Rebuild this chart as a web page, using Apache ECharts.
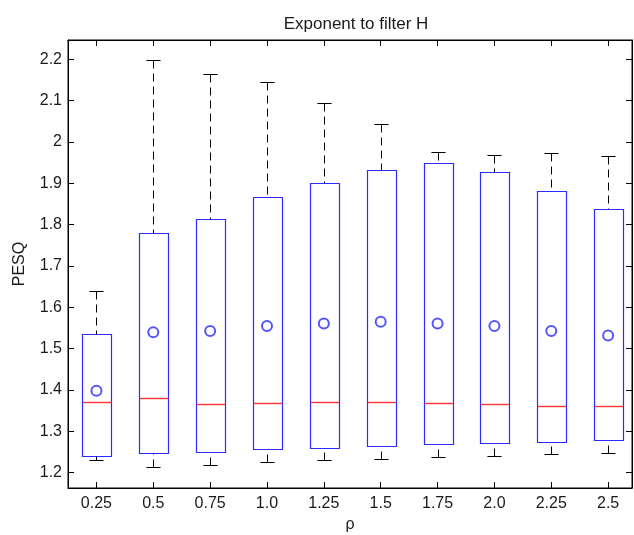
<!DOCTYPE html>
<html>
<head>
<meta charset="utf-8">
<title>Exponent to filter H</title>
<script src="https://cdn.jsdelivr.net/npm/echarts@6/dist/echarts.min.js"></script>
<style>
  html, body { margin: 0; padding: 0; background: #fff; }
  #chart { width: 634px; height: 535px; }
</style>
</head>
<body>
<div id="chart"></div>
<script>
// Exponent values on the x axis
const categories = ['0.25', '0.5', '0.75', '1.0', '1.25', '1.5', '1.75', '2.0', '2.25', '2.5'];

// Box statistics per exponent (PESQ)
const whiskerLow  = [1.230, 1.213, 1.219, 1.227, 1.230, 1.232, 1.238, 1.241, 1.245, 1.248];
const quartile1   = [1.241, 1.248, 1.251, 1.257, 1.260, 1.264, 1.270, 1.271, 1.274, 1.280];
const medians     = [1.371, 1.381, 1.366, 1.369, 1.372, 1.372, 1.369, 1.366, 1.362, 1.362];
const quartile3   = [1.536, 1.779, 1.814, 1.866, 1.901, 1.932, 1.948, 1.927, 1.882, 1.838];
const whiskerHigh = [1.640, 2.198, 2.164, 2.144, 2.094, 2.044, 1.976, 1.968, 1.974, 1.966];
const means       = [1.398, 1.540, 1.543, 1.555, 1.561, 1.565, 1.561, 1.555, 1.543, 1.532];

// Tick positions
const xTicks = [1, 2, 3, 4, 5, 6, 7, 8, 9, 10];
const yTicks = [1.2, 1.3, 1.4, 1.5, 1.6, 1.7, 1.8, 1.9, 2.0, 2.1, 2.2];

const boxRows = categories.map((c, i) =>
  [i + 1, whiskerLow[i], quartile1[i], medians[i], quartile3[i], whiskerHigh[i]]);
const meanRows = categories.map((c, i) => [i + 1, means[i]]);

const BLUE = '#2b2bff';
const RED = '#ff3333';
const FONT = 'Liberation Sans, Arial, sans-serif';
const FONT_SIZE = 16;
const TEXT_COLOR = '#1a1a1a';

const X_MIN = 0.5, X_MAX = 10.42;
const Y_MIN = 1.163, Y_MAX = 2.2467;

function px(v) { return Math.round(v) + 0.5; }

function renderBox(params, api) {
  const x = api.value(0);
  const pLo = api.coord([x, api.value(1)]);
  const pQ1 = api.coord([x, api.value(2)]);
  const pMed = api.coord([x, api.value(3)]);
  const pQ3 = api.coord([x, api.value(4)]);
  const pHi = api.coord([x, api.value(5)]);
  const cx = px(pMed[0]);
  const halfW = api.size([0.5, 0])[0] / 2;
  const capHalf = halfW / 2;
  const dashStyle = { stroke: '#000', lineWidth: 1, lineDash: [8, 5], fill: null };
  const solid = { stroke: '#000', lineWidth: 1, fill: null };
  const yLo = px(pLo[1]), yQ1 = px(pQ1[1]), yMed = px(pMed[1]), yQ3 = px(pQ3[1]), yHi = px(pHi[1]);
  const left = px(cx - halfW), right = px(cx + halfW);
  return {
    type: 'group',
    children: [
      { type: 'line', shape: { x1: cx, y1: yHi, x2: cx, y2: yQ3 }, style: dashStyle },
      { type: 'line', shape: { x1: cx, y1: yLo, x2: cx, y2: yQ1 }, style: dashStyle },
      { type: 'line', shape: { x1: cx - capHalf, y1: yHi, x2: cx + capHalf, y2: yHi }, style: solid },
      { type: 'line', shape: { x1: cx - capHalf, y1: yLo, x2: cx + capHalf, y2: yLo }, style: solid },
      { type: 'rect', shape: { x: left, y: yQ3, width: right - left, height: yQ1 - yQ3 },
        style: { stroke: BLUE, lineWidth: 1.2, fill: null } },
      { type: 'line', shape: { x1: left, y1: yMed, x2: right, y2: yMed },
        style: { stroke: RED, lineWidth: 1.4, fill: null } }
    ]
  };
}

const chart = echarts.init(document.getElementById('chart'), null, { renderer: 'canvas' });

const axisLineStyle = { color: '#000', width: 1 };

chart.setOption({
  animation: false,
  backgroundColor: '#fff',
  title: {
    text: 'Exponent to filter H',
    left: 351,
    top: 11,
    textAlign: 'center',
    textStyle: { fontFamily: FONT, fontSize: 17, fontWeight: 'normal', color: TEXT_COLOR }
  },
  grid: {
    left: 68, top: 40, right: 2, bottom: 47,
    outerBoundsMode: 'none',
    containLabel: false,
    show: true, borderColor: '#000', borderWidth: 1, backgroundColor: '#fff'
  },
  xAxis: [
    {
      type: 'value', min: X_MIN, max: X_MAX, position: 'bottom',
      name: 'ρ', nameLocation: 'middle', nameGap: 28,
      nameTextStyle: { fontFamily: FONT, fontSize: FONT_SIZE, color: TEXT_COLOR },
      axisLine: { show: true, lineStyle: axisLineStyle },
      axisTick: { show: true, inside: true, length: 6, customValues: xTicks, lineStyle: axisLineStyle },
      axisLabel: {
        customValues: xTicks, margin: 8,
        formatter: v => categories[Math.round(v) - 1],
        fontFamily: FONT, fontSize: FONT_SIZE, color: TEXT_COLOR
      },
      splitLine: { show: false }
    },
    {
      type: 'value', min: X_MIN, max: X_MAX, position: 'top',
      axisLine: { show: true, lineStyle: axisLineStyle },
      axisTick: { show: true, inside: true, length: 6, customValues: xTicks, lineStyle: axisLineStyle },
      axisLabel: { show: false },
      splitLine: { show: false }
    }
  ],
  yAxis: [
    {
      type: 'value', min: Y_MIN, max: Y_MAX, position: 'left',
      name: 'PESQ', nameLocation: 'middle', nameGap: 40, nameRotate: 90,
      nameTextStyle: { fontFamily: FONT, fontSize: FONT_SIZE, color: TEXT_COLOR },
      axisLine: { show: true, lineStyle: axisLineStyle },
      axisTick: { show: true, inside: true, length: 6, customValues: yTicks, lineStyle: axisLineStyle },
      axisLabel: {
        customValues: yTicks, margin: 6,
        formatter: v => String(Math.round(v * 10) / 10),
        fontFamily: FONT, fontSize: FONT_SIZE, color: TEXT_COLOR
      },
      splitLine: { show: false }
    },
    {
      type: 'value', min: Y_MIN, max: Y_MAX, position: 'right',
      axisLine: { show: true, lineStyle: axisLineStyle },
      axisTick: { show: true, inside: true, length: 6, customValues: yTicks, lineStyle: axisLineStyle },
      axisLabel: { show: false },
      splitLine: { show: false }
    }
  ],
  series: [
    {
      type: 'custom',
      name: 'PESQ',
      xAxisIndex: 0, yAxisIndex: 0,
      data: boxRows,
      encode: { x: 0, y: [1, 2, 3, 4, 5] },
      renderItem: renderBox,
      clip: false,
      z: 2
    },
    {
      type: 'scatter',
      name: 'mean',
      xAxisIndex: 0, yAxisIndex: 0,
      data: meanRows,
      symbol: 'emptyCircle',
      symbolSize: 10,
      itemStyle: { color: BLUE, borderColor: BLUE, borderWidth: 1.6 },
      z: 5
    }
  ]
});
</script>
</body>
</html>
